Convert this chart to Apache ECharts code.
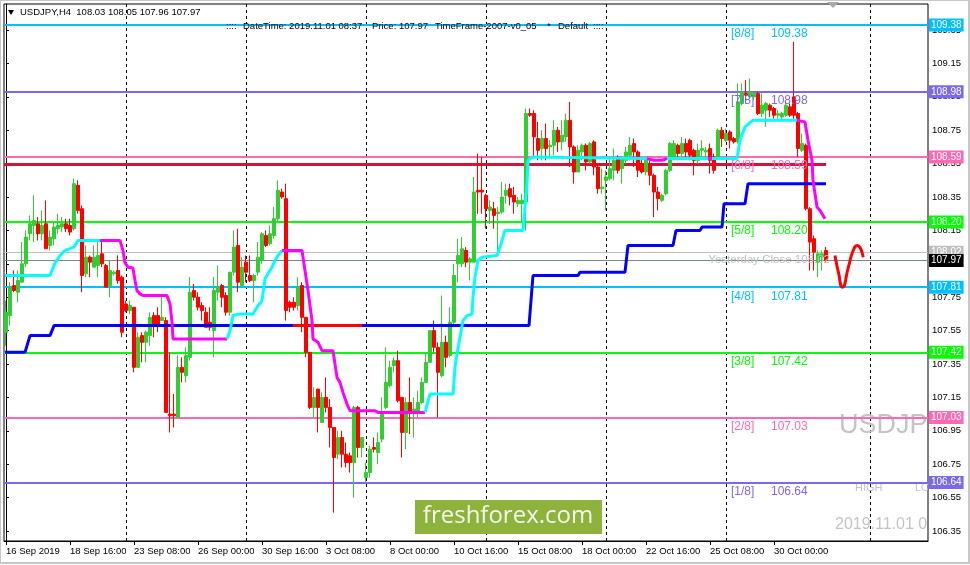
<!DOCTYPE html>
<html><head><meta charset="utf-8">
<script src="https://cdn.jsdelivr.net/npm/echarts@6/dist/echarts.min.js"></script>
<style>html,body{margin:0;padding:0;background:#fff}#c{width:970px;height:565px}</style>
</head><body><div id="c"></div>
<script>
// ---------------- data ----------------
const tickLabels = ['16 Sep 2019','18 Sep 16:00','23 Sep 08:00','26 Sep 00:00','30 Sep 16:00','3 Oct 08:00','8 Oct 00:00','10 Oct 16:00','15 Oct 08:00','18 Oct 00:00','22 Oct 16:00','25 Oct 08:00','30 Oct 00:00'];
const barsPerTick = 16;
const slotCount = 231;          // bars + empty right shift area
const yTicks = [106.35,106.55,106.75,106.95,107.15,107.35,107.55,107.75,107.95,108.15,108.35,108.55,108.75,108.95,109.15,109.35];
const gridBars = [30,60,90,120,150,180,216];

// [open, close, low, high]
const candles = [
[107.54,107.66,107.46,107.73],[107.64,107.81,107.58,107.84],[107.82,107.79,107.78,107.91],[107.78,107.85,107.72,107.91],
[107.84,107.95,107.84,108.08],[107.95,108.11,107.93,108.15],[108.13,108.19,108.09,108.24],[108.18,108.21,108.08,108.36],
[108.19,108.13,108.09,108.23],[108.13,108.18,108.09,108.27],[108.19,108.04,108.04,108.33],[108.06,108.11,108.03,108.15],
[108.10,108.17,108.06,108.20],[108.16,108.18,108.13,108.25],[108.17,108.19,108.14,108.23],[108.19,108.16,108.14,108.22],
[108.18,108.14,108.12,108.22],[108.16,108.43,108.15,108.46],[108.42,108.27,108.25,108.45],[108.28,107.88,107.78,108.30],
[107.89,107.99,107.87,108.06],[107.99,107.96,107.87,108.00],[107.93,107.99,107.93,108.06],[107.94,108.00,107.87,108.08],
[108.01,107.95,107.93,108.08],[107.94,107.81,107.81,107.95],[107.82,107.91,107.75,107.97],[107.89,107.90,107.88,107.91],
[107.91,107.85,107.83,108.00],[107.87,107.54,107.51,107.88],[107.71,107.67,107.66,107.73],[107.67,107.70,107.65,107.73],
[107.69,107.33,107.30,107.69],[107.33,107.51,107.33,107.54],[107.52,107.48,107.36,107.54],[107.48,107.54,107.36,107.55],
[107.52,107.63,107.46,107.66],[107.64,107.59,107.51,107.66],[107.64,107.58,107.54,107.69],[107.61,107.63,107.61,107.75],
[107.61,107.06,107.06,107.63],[107.05,107.04,106.94,107.42],[107.05,107.04,106.97,107.17],[107.03,107.33,107.03,107.40],
[107.33,107.30,107.24,107.39],[107.28,107.40,107.24,107.45],[107.39,107.78,107.37,107.87],[107.79,107.75,107.73,107.83],
[107.75,107.69,107.67,107.78],[107.70,107.67,107.61,107.72],[107.66,107.57,107.57,107.69],[107.60,107.57,107.55,107.69],
[107.55,107.79,107.39,107.87],[107.78,107.81,107.73,107.94],[107.82,107.75,107.69,107.83],[107.76,107.66,107.64,107.78],
[107.66,107.90,107.64,107.90],[107.90,108.05,107.88,108.15],[108.06,107.84,107.78,108.16],[107.82,107.93,107.81,107.99],
[107.96,107.90,107.84,108.00],[107.88,107.85,107.84,108.00],[107.85,107.88,107.72,107.89],[107.90,107.99,107.88,108.08],
[107.97,108.13,107.95,108.14],[108.12,108.06,108.05,108.15],[108.07,108.13,108.06,108.18],[108.12,108.22,108.10,108.29],
[108.22,108.39,108.20,108.45],[108.38,108.35,108.34,108.40],[108.34,107.67,107.61,108.43],[107.72,107.69,107.66,107.73],
[107.72,107.69,107.67,107.75],[107.70,107.81,107.67,107.87],[107.82,107.63,107.54,107.84],[107.63,107.42,107.39,107.63],
[107.42,107.09,107.08,107.42],[107.09,107.15,107.03,107.21],[107.20,107.09,106.94,107.20],[107.00,107.15,107.00,107.18],
[107.15,107.09,107.06,107.27],[107.09,106.97,106.85,107.14],[106.97,106.79,106.46,106.97],[106.81,106.91,106.78,106.95],
[106.91,106.81,106.73,106.95],[106.81,106.76,106.73,106.88],[106.80,106.76,106.70,106.82],[106.76,107.09,106.55,107.10],
[107.09,106.85,106.79,107.10],[106.85,106.91,106.79,106.91],[106.67,106.70,106.64,106.76],[106.70,106.84,106.67,106.86],
[106.85,106.84,106.82,106.91],[106.82,106.88,106.75,106.94],[106.90,107.06,106.88,107.15],[107.09,107.24,107.08,107.45],
[107.22,107.33,107.21,107.37],[107.34,107.37,107.30,107.39],[107.37,107.13,107.12,107.43],[107.15,106.94,106.79,107.15],
[106.94,107.12,106.84,107.15],[107.12,107.06,106.93,107.27],[107.06,107.08,106.91,107.15],[107.06,107.12,107.03,107.19],
[107.12,107.24,107.11,107.27],[107.24,107.36,107.24,107.42],[107.36,107.55,107.36,107.55],[107.55,107.45,107.42,107.61],
[107.45,107.30,107.03,107.48],[107.28,107.48,107.27,107.76],[107.48,107.39,107.33,107.52],[107.40,107.60,107.39,107.69],
[107.60,107.88,107.57,107.95],[107.95,108.00,107.84,108.10],[107.95,108.04,107.93,108.11],[108.03,107.96,107.93,108.05],
[107.96,107.98,107.85,107.99],[107.96,108.38,107.96,108.47],[108.39,108.38,108.25,108.61],[108.39,108.38,108.25,108.59],
[108.36,108.28,108.16,108.37],[108.27,108.29,108.19,108.33],[108.28,108.24,108.16,108.32],[108.25,108.26,108.03,108.29],
[108.26,108.35,108.25,108.44],[108.36,108.39,108.31,108.43],[108.40,108.35,108.30,108.43],[108.36,108.32,108.25,108.41],
[108.31,108.33,108.29,108.35],[108.31,108.33,108.20,108.37],[108.32,108.85,108.15,108.88],[108.85,108.84,108.83,108.88],
[108.85,108.71,108.59,108.87],[108.70,108.63,108.57,108.80],[108.64,108.70,108.57,108.75],[108.70,108.64,108.57,108.79],
[108.65,108.66,108.59,108.69],[108.66,108.75,108.60,108.81],[108.75,108.68,108.62,108.77],[108.68,108.72,108.63,108.81],
[108.71,108.81,108.68,108.85],[108.81,108.65,108.53,108.92],[108.65,108.50,108.43,108.66],[108.50,108.63,108.50,108.66],
[108.62,108.66,108.57,108.67],[108.66,108.56,108.51,108.67],[108.56,108.67,108.55,108.68],[108.68,108.53,108.48,108.69],
[108.53,108.40,108.37,108.55],[108.40,108.41,108.37,108.52],[108.45,108.47,108.27,108.51],[108.46,108.52,108.45,108.59],
[108.51,108.57,108.45,108.64],[108.59,108.51,108.49,108.60],[108.52,108.58,108.43,108.59],[108.57,108.62,108.55,108.65],
[108.60,108.66,108.57,108.71],[108.67,108.62,108.53,108.70],[108.62,108.51,108.47,108.63],[108.55,108.50,108.49,108.58],
[108.50,108.57,108.48,108.59],[108.55,108.48,108.42,108.57],[108.48,108.38,108.23,108.49],[108.38,108.34,108.27,108.41],
[108.33,108.36,108.32,108.37],[108.37,108.51,108.36,108.52],[108.51,108.67,108.50,108.68],[108.59,108.67,108.58,108.69],
[108.66,108.61,108.57,108.67],[108.61,108.67,108.57,108.71],[108.67,108.62,108.59,108.70],[108.69,108.60,108.57,108.70],
[108.63,108.57,108.48,108.64],[108.57,108.63,108.55,108.67],[108.63,108.64,108.58,108.69],[108.62,108.63,108.59,108.65],
[108.64,108.57,108.49,108.67],[108.59,108.51,108.49,108.61],[108.59,108.75,108.57,108.76],[108.75,108.70,108.65,108.77],
[108.69,108.73,108.68,108.76],[108.74,108.69,108.64,108.75],[108.70,108.68,108.67,108.71],[108.68,108.92,108.67,109.03],
[108.91,108.98,108.90,109.03],[108.97,108.96,108.91,109.05],[108.95,108.98,108.94,109.06],[108.95,108.97,108.93,108.98],
[108.97,108.85,108.84,108.98],[108.85,108.90,108.83,108.97],[108.87,108.91,108.77,108.92],[108.90,108.87,108.83,108.91],
[108.88,108.84,108.82,108.89],[108.84,108.85,108.82,108.87],[108.83,108.85,108.81,108.86],[108.84,108.90,108.83,108.93],
[108.89,108.84,108.83,108.91],[108.95,108.84,108.81,109.28],[108.85,108.64,108.59,108.86],[108.63,108.67,108.62,108.73],
[108.66,108.28,108.27,108.67],[108.28,108.08,107.91,108.29],[108.10,108.02,107.91,108.12],[107.96,108.01,107.87,108.03],
[107.99,108.01,107.91,108.03],[108.03,107.97,107.96,108.05]
];

// Murrey math levels
const murreyNames = ['[8/8]','[7/8]','[6/8]','[5/8]','[4/8]','[3/8]','[2/8]','[1/8]'];
const murreyPrices = [109.38,108.98,108.59,108.20,107.81,107.42,107.03,106.64];
const yesterdayClose = 108.02;
const bidPrice = 107.97;
const pivotLevel = 108.545;             // crimson line
const pivotEndBar = 205;

// blue step line [bar, price]
const blueSteps = [[-0.25,107.42],[4.75,107.42],[6,107.52],[11,107.52],[12,107.58],[130.75,107.58],[131.75,107.88],[143,107.88],
[143.5,107.90],[154.75,107.90],[155.5,108.06],[166.75,108.06],[167.5,108.15],[173.5,108.15],[174,108.17],[179,108.17],
[179.5,108.31],[184.75,108.31],[185.5,108.43],[205,108.43]];
const blueRedPart = [[71.75,107.58],[89,107.58]];

// trailing line [bar, price], and the bar ranges where it is magenta
const trendPts = [[-0.25,107.88],[11,107.88],[12.25,107.955],[13.5,108.00],[14.75,108.03],[17,108.05],[18,108.09],[23.5,108.09],
[28.5,108.09],[29.25,108.03],[29.75,107.955],[30.5,107.93],[31.75,107.925],[32.25,107.85],[32.75,107.79],[33.5,107.77],
[34.25,107.76],[40.25,107.76],[41,107.71],[41.5,107.60],[41.75,107.50],[55.25,107.50],[56,107.55],[56.75,107.64],
[58.5,107.65],[61.75,107.65],[62.75,107.69],[64,107.73],[64.75,107.86],[65.25,107.88],[66.5,107.93],[67.25,107.97],
[68,108.00],[69,108.03],[74,108.03],[74.75,107.91],[75.5,107.79],[76.5,107.61],[76.75,107.50],[78,107.48],[79,107.43],
[81.75,107.43],[82.75,107.27],[83.5,107.24],[84.25,107.18],[85.25,107.11],[86,107.07],[92.25,107.07],[93,107.06],
[104.75,107.06],[106,107.17],[111.75,107.17],[112.25,107.33],[112.75,107.41],[113.5,107.51],[114.25,107.61],[115.25,107.64],
[116.5,107.65],[116.75,107.75],[117.25,107.87],[118,107.97],[119,107.99],[122.75,108.00],[123.5,108.05],[124.75,108.15],
[129.25,108.15],[130.25,108.43],[130.5,108.57],[131.5,108.59],[160.25,108.58],[162,108.57],[164,108.57],[165.25,108.58],
[175.5,108.58],[176.5,108.58],[182.75,108.58],[183.5,108.69],[184.75,108.77],[186.75,108.81],[197.75,108.81],[199.75,108.80],
[200.5,108.69],[201.5,108.57],[201.75,108.45],[202.75,108.29],[203.5,108.27],[204.75,108.22]];
const magentaRanges = [[23.5,55.25],[69,104.75],[160.25,165.25],[175.5,176.5],[197.75,204.75]];

// hand drawn forecast wave [bar, price]
const wavePts = [[207.25,108.00],[208.1,107.90],[209.1,107.81],[210.6,107.93],[211.8,108.03],[212.8,108.06],[214.3,107.99]];

// ---------------- styles ----------------
const murreyColors = ['#00BFFF','#7B68EE','#FF69B4','#00FF00','#00BFFF','#00FF00','#FF69B4','#7B68EE'];
const FONT = 'Liberation Sans, Arial, sans-serif';
const levelLabelBar = 181.25;

// ---------------- build ----------------
const cats = Array.from({length: slotCount}, (_, i) => String(i));
const labelAt = {};
tickLabels.forEach((t, i) => { labelAt[i * barsPerTick] = t; });
const isTick = (idx) => labelAt[idx] !== undefined;

function splitTrend() {
  const segs = []; let cur = null;
  for (let i = 0; i < trendPts.length - 1; i++) {
    const a = trendPts[i], b = trendPts[i + 1];
    const mid = (a[0] + b[0]) / 2;
    const mag = magentaRanges.some(r => mid >= r[0] && mid <= r[1]);
    if (!cur || cur.mag !== mag) { cur = {mag, pts: [a]}; segs.push(cur); }
    cur.pts.push(b);
  }
  return segs;
}

const last = candles[candles.length - 1];
const header = 'USDJPY,H4  ' + [last[0], last[3], last[2], last[1]].map(v => v.toFixed(2)).join(' ');

const levelLines = murreyPrices.map((p, i) => ({
  yAxis: p,
  lineStyle: {color: murreyColors[i], width: 2, type: 'solid'},
  label: {backgroundColor: murreyColors[i]}
}));
levelLines.push({yAxis: yesterdayClose, lineStyle: {color: '#C0C0C0', width: 1, type: 'solid'}, label: {backgroundColor: '#C0C0C0'}});
levelLines.push({yAxis: bidPrice, lineStyle: {color: '#778899', width: 1, type: 'solid'}, label: {backgroundColor: '#000000'}});

const series = [];

series.push({
  type: 'candlestick', xAxisIndex: 0, yAxisIndex: 0, z: 2,
  data: candles, barWidth: 3, animation: false,
  itemStyle: {color: '#32CD32', color0: '#FF0000', borderColor: '#32CD32', borderColor0: '#FF0000', borderWidth: 1},
  markLine: {
    silent: true, symbol: ['none', 'none'], z: 1, animation: false,
    label: {show: true, position: 'end', distance: 1, formatter: (p) => Number(p.value).toFixed(2),
      color: '#fff', fontSize: 10, fontFamily: FONT, padding: [2, 2, 1, 2], lineHeight: 10},
    emphasis: {disabled: true},
    data: levelLines
  }
});

// crimson pivot line
series.push({
  type: 'line', xAxisIndex: 1, yAxisIndex: 0, z: 1.5, symbol: 'none', animation: false,
  data: [[-0.5, pivotLevel], [pivotEndBar, pivotLevel]],
  lineStyle: {color: '#D2143A', width: 3}
});

// blue step line (with dashed time grid as markLine)
series.push({
  type: 'line', xAxisIndex: 1, yAxisIndex: 0, z: 3, symbol: 'none', animation: false,
  data: blueSteps, lineStyle: {color: '#0000FF', width: 3},
  markLine: {
    silent: true, symbol: ['none', 'none'], z: 0.5, animation: false, label: {show: false},
    lineStyle: {color: '#000', width: 1, type: [3, 3]},
    emphasis: {disabled: true},
    data: gridBars.map(b => ({xAxis: b}))
  }
});
series.push({
  type: 'line', xAxisIndex: 1, yAxisIndex: 0, z: 3.1, symbol: 'none', animation: false,
  data: blueRedPart, lineStyle: {color: '#FF0000', width: 3}
});

splitTrend().forEach(s => {
  series.push({
    type: 'line', xAxisIndex: 1, yAxisIndex: 0, z: 3.2, symbol: 'none', animation: false,
    data: s.pts, lineStyle: {color: s.mag ? '#FF00FF' : '#00FFFF', width: 3}
  });
});

series.push({
  type: 'line', xAxisIndex: 1, yAxisIndex: 0, z: 3.3, symbol: 'none', smooth: 0.6, animation: false,
  data: wavePts, lineStyle: {color: '#FF0000', width: 3}
});

// Murrey level captions
series.push({
  type: 'custom', xAxisIndex: 1, yAxisIndex: 0, z: 4, animation: false, silent: true,
  data: murreyPrices.map(p => [levelLabelBar, p]),
  renderItem: (params, api) => {
    const pt = api.coord([api.value(0), api.value(1)]);
    const i = params.dataIndex;
    const col = murreyColors[i];
    return {type: 'group', children: [
      {type: 'text', x: pt[0], y: pt[1] + 3, style: {text: murreyNames[i], fill: col, fontSize: 12, fontFamily: FONT, verticalAlign: 'top', align: 'left'}},
      {type: 'text', x: pt[0] + 40, y: pt[1] + 3, style: {text: murreyPrices[i].toFixed(2), fill: col, fontSize: 12, fontFamily: FONT, verticalAlign: 'top', align: 'left'}}
    ]};
  }
});

// Yesterday close caption
series.push({
  type: 'custom', xAxisIndex: 1, yAxisIndex: 0, z: 4, animation: false, silent: true,
  data: [[206, yesterdayClose]],
  renderItem: (params, api) => {
    const pt = api.coord([api.value(0), api.value(1)]);
    return {type: 'text', x: pt[0], y: pt[1] + 2, style: {text: 'Yesterday Close ' + yesterdayClose.toFixed(2), fill: '#C0C0C0', fontSize: 11.5, fontFamily: FONT, verticalAlign: 'top', align: 'right'}};
  }
});

// screen-anchored chart labels (clipped at the chart frame)
series.push({
  type: 'custom', xAxisIndex: 1, yAxisIndex: 0, z: 0.8, animation: false, silent: true, clip: true,
  data: [[0, 107]],
  renderItem: (params, api) => {
    return {type: 'group', children: [
      {type: 'text', x: 839, y: 426, style: {text: 'USDJPY', fill: '#C4C4C4', fontSize: 27, fontFamily: FONT, verticalAlign: 'middle', align: 'left'}},
      {type: 'text', x: 855, y: 488, style: {text: 'HIGH', fill: '#C4C4C4', fontSize: 11, fontFamily: FONT, verticalAlign: 'middle', align: 'left'}},
      {type: 'text', x: 915, y: 488, style: {text: 'LOW', fill: '#C4C4C4', fontSize: 11, fontFamily: FONT, verticalAlign: 'middle', align: 'left'}},
      {type: 'text', x: 835, y: 525, style: {text: '2019.11.01 08:37', fill: '#C4C4C4', fontSize: 16, fontFamily: FONT, verticalAlign: 'middle', align: 'left'}}
    ]};
  }
});

const option = {
  animation: false,
  backgroundColor: '#fff',
  grid: {left: 4, top: 4, right: 42, bottom: 24, show: true, borderColor: '#000', borderWidth: 1, backgroundColor: '#fff'},
  xAxis: [
    {type: 'category', data: cats, boundaryGap: true,
      axisLine: {show: true, lineStyle: {color: '#000', width: 1}},
      axisTick: {show: true, alignWithLabel: true, interval: (i) => isTick(i), length: 4, lineStyle: {color: '#000'}},
      axisLabel: {show: true, interval: (i) => isTick(i), formatter: (v, i) => labelAt[i] || '', align: 'left', margin: 5,
        color: '#000', fontSize: 9.5, fontFamily: FONT},
      splitLine: {show: false}},
    {type: 'value', min: -0.5, max: slotCount - 0.5, show: false}
  ],
  yAxis: [{
    type: 'value', position: 'right', min: 106.29, max: 109.506, scale: true,
    axisLine: {show: true, lineStyle: {color: '#000', width: 1}},
    axisTick: {show: true, length: 3, customValues: yTicks, lineStyle: {color: '#000'}},
    axisLabel: {show: true, customValues: yTicks, formatter: (v) => Number(v).toFixed(2), margin: 4, color: '#000', fontSize: 9.5, fontFamily: FONT},
    splitLine: {show: false}
  }],
  graphic: [
    {type: 'rect', z: 100, shape: {x: 0, y: 0, width: 969, height: 563}, style: {fill: 'none', stroke: '#C8C8C8', lineWidth: 2}, silent: true},
    {type: 'polygon', z: 100, shape: {points: [[8, 10], [14, 10], [11, 15]]}, style: {fill: '#000'}, silent: true},
    {type: 'polygon', z: 100, shape: {points: [[827, 2], [839, 2], [833, 8]]}, style: {fill: '#A9A9A9'}, silent: true},
    {type: 'text', z: 100, x: 20, y: 12, style: {text: header, fill: '#000', fontSize: 9.5, fontFamily: FONT, verticalAlign: 'middle'}, silent: true},
    {type: 'text', z: 100, x: 226, y: 26, style: {text: '::::', fill: '#000', fontSize: 9.5, fontFamily: FONT, verticalAlign: 'middle'}, silent: true},
    {type: 'text', z: 100, x: 243, y: 26, style: {text: 'DateTime: 2019.11.01 08:37', fill: '#000', fontSize: 9.5, fontFamily: FONT, verticalAlign: 'middle'}, silent: true},
    {type: 'text', z: 100, x: 372, y: 26, style: {text: 'Price: 107.97', fill: '#000', fontSize: 9.5, fontFamily: FONT, verticalAlign: 'middle'}, silent: true},
    {type: 'text', z: 100, x: 435, y: 26, style: {text: 'TimeFrame-2007-v0_05', fill: '#000', fontSize: 9.5, fontFamily: FONT, verticalAlign: 'middle'}, silent: true},
    {type: 'text', z: 100, x: 547, y: 26, style: {text: '*', fill: '#000', fontSize: 9.5, fontFamily: FONT, verticalAlign: 'middle'}, silent: true},
    {type: 'text', z: 100, x: 558, y: 26, style: {text: 'Default', fill: '#000', fontSize: 9.5, fontFamily: FONT, verticalAlign: 'middle'}, silent: true},
    {type: 'text', z: 100, x: 593, y: 26, style: {text: '::::', fill: '#000', fontSize: 9.5, fontFamily: FONT, verticalAlign: 'middle'}, silent: true},
    {type: 'rect', z: 100, shape: {x: 415, y: 500, width: 187, height: 34}, style: {fill: '#8DB33D'}, silent: true},
    {type: 'text', z: 101, x: 508, y: 516, style: {text: 'freshforex.com', fill: '#F4F8EC', fontSize: 24, fontFamily: 'Open Sans, Noto Sans, sans-serif', align: 'center', verticalAlign: 'middle'}, silent: true}
  ],
  series: series
};

const chart = echarts.init(document.getElementById('c'), null, {renderer: 'canvas'});
chart.setOption(option);
</script>
</body></html>
